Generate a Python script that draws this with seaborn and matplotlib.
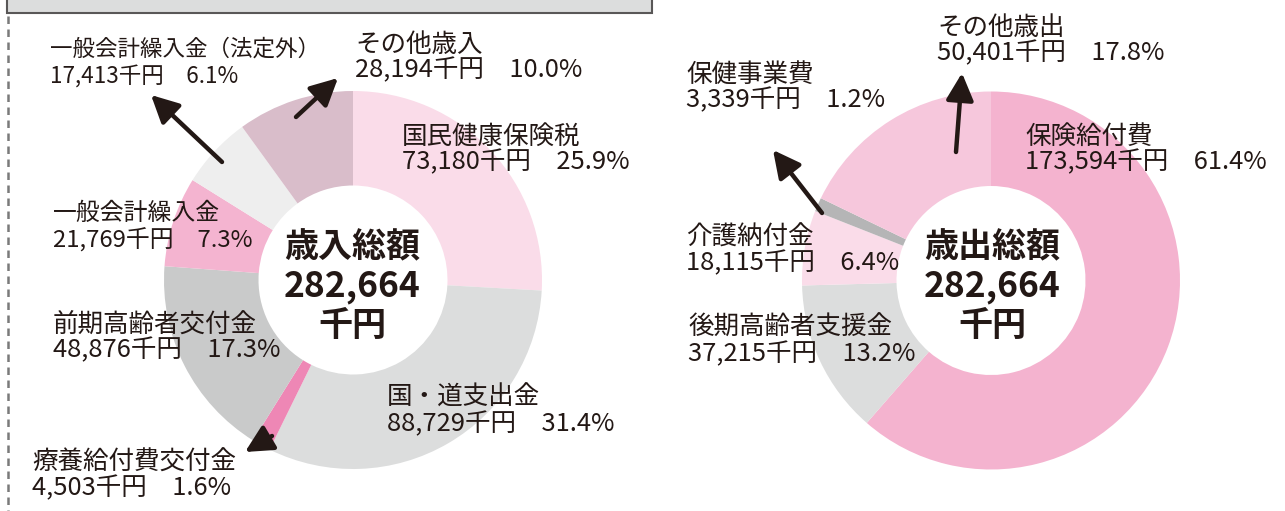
import matplotlib
matplotlib.use("Agg")
import matplotlib.pyplot as plt
import seaborn as sns
from matplotlib.patches import Rectangle
from matplotlib.lines import Line2D

sns.set_theme(style="white")
plt.rcParams['font.family'] = ['Noto Sans CJK JP', 'DejaVu Sans']

# ---- data ----
rev_labels = ["国民健康保険税", "国・道支出金", "療養給付費交付金", "前期高齢者交付金",
              "一般会計繰入金", "一般会計繰入金（法定外）", "その他歳入"]
rev_values = [73180, 88729, 4503, 48876, 21769, 17413, 28194]
rev_pcts = ["25.9%", "31.4%", "1.6%", "17.3%", "7.3%", "6.1%", "10.0%"]
rev_colors = ["#FADCE9", "#DCDDDD", "#EE87B5", "#C9CACA", "#F4B4D0", "#EEEEEE", "#D9BDCA"]

exp_labels = ["保険給付費", "後期高齢者支援金", "介護納付金", "保健事業費", "その他歳出"]
exp_values = [173594, 37215, 18115, 3339, 50401]
exp_pcts = ["61.4%", "13.2%", "6.4%", "1.2%", "17.8%"]
exp_colors = ["#F4B3CF", "#DCDDDD", "#FADCE9", "#B5B5B6", "#F6C7DC"]

rev_total_title = "歳入総額"
exp_total_title = "歳出総額"
total_text = "282,664"
unit = "千円"

W, H = 1285, 511
TXT = "#231815"

fig = plt.figure(figsize=(W / 100, H / 100), dpi=100)
ax = fig.add_axes([0, 0, 1, 1])


def py(y):
    return H - y


# donuts
R = 189
ax.pie(rev_values, colors=rev_colors, startangle=90, counterclock=False,
       center=(353, py(280)), radius=R,
       wedgeprops=dict(width=R * 0.5, linewidth=0))
ax.pie(exp_values, colors=exp_colors, startangle=90, counterclock=False,
       center=(991, py(280.5)), radius=R,
       wedgeprops=dict(width=R * 0.5, linewidth=0))

ax.set_xlim(0, W)
ax.set_ylim(0, H)
ax.set_aspect('auto')
ax.axis('off')

# title box (cut off at top) and dashed frame line
ax.add_patch(Rectangle((7, py(13)), 645, 20, facecolor="#DCDDDD",
                       edgecolor="#595757", linewidth=1.5, zorder=3))
ax.add_line(Line2D([7.5, 7.5], [py(16), 0], color="#7A7A7A", lw=1.8,
                   linestyle=(0, (3, 2.2)), zorder=3))

# center texts
for cx, title in [(352, rev_total_title), (992, exp_total_title)]:
    ax.text(cx, py(247), title, ha='center', va='center', fontsize=24.5,
            fontweight='bold', color=TXT)
    ax.text(cx, py(286), total_text, ha='center', va='center', fontsize=25.5,
            fontweight='bold', color=TXT)
    ax.text(cx, py(325), unit, ha='center', va='center', fontsize=24.5,
            fontweight='bold', color=TXT)


def label(x, y1, y2, name, value, pct, fs=18.4):
    ax.text(x, py(y1), name, ha='left', va='center', fontsize=fs, color=TXT)
    ax.text(x, py(y2), f"{value:,}{unit}\u3000{pct}", ha='left', va='center',
            fontsize=fs, color=TXT)


# revenue labels
rev_pos = [(402, 137, 162, 18.4), (387, 398, 424, 18.4), (32, 463, 488, 18.4),
           (53, 325, 350, 18.4), (53, 213, 240, 17.2), (50, 49, 76, 16.2),
           (355, 45, 70, 18.4)]
for (x, y1, y2, fs), n, v, p in zip(rev_pos, rev_labels, rev_values, rev_pcts):
    label(x, y1, y2, n, v, p, fs)

# expenditure labels
exp_pos = [(1025, 137, 162), (688, 328, 354), (686, 238, 263),
           (686, 75, 100), (937, 28, 53)]
for (x, y1, y2), n, v, p in zip(exp_pos, exp_labels, exp_values, exp_pcts):
    label(x, y1, y2, n, v, p)


def arrow(tail, head):
    ax.annotate('', xy=(head[0], py(head[1])), xytext=(tail[0], py(tail[1])),
                arrowprops=dict(arrowstyle='-|>,head_length=0.75,head_width=0.38',
                                lw=3.2, color=TXT, mutation_scale=22,
                                shrinkA=0, shrinkB=0), zorder=5)


arrow((296, 117), (338, 78))
arrow((222, 162), (151, 95))
arrow((272, 436), (245, 452))
arrow((822, 213), (773, 150))
arrow((956, 152), (962, 73))

fig.savefig("out.png", dpi=100)
